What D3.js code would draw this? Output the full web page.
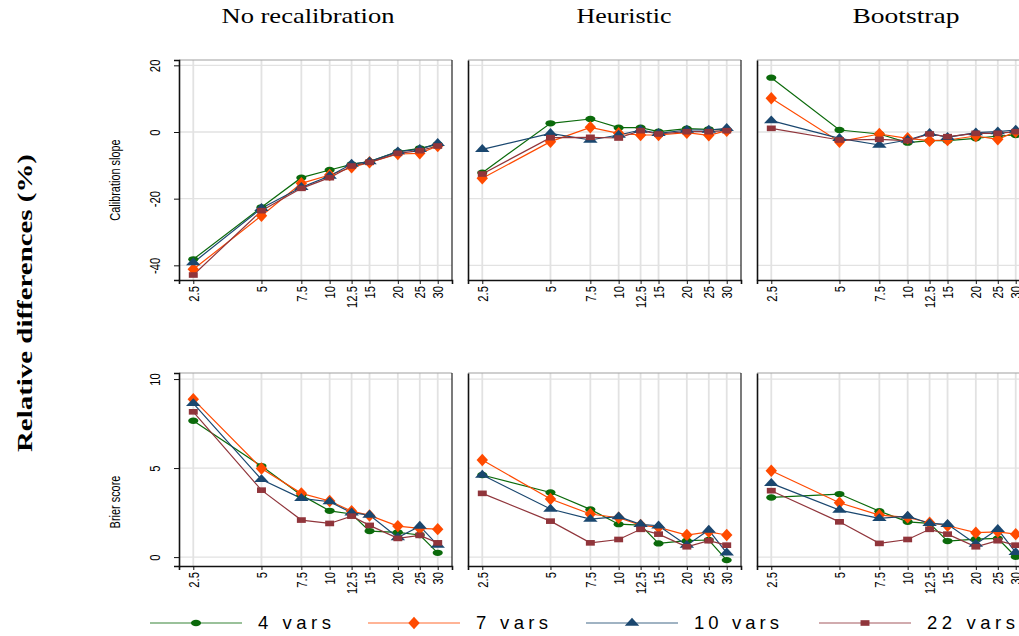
<!DOCTYPE html>
<html>
<head>
<meta charset="utf-8">
<script src="https://cdn.jsdelivr.net/npm/d3@7"></script>
<style>
  body { margin: 0; background: #fff; }
  svg { display: block; }
  .narrow { font-family: "Liberation Sans", Arial, sans-serif; }
</style>
</head>
<body>
<div id="chart"></div>
<script>
// sample size (events per variable) on the x axis
const xTicks = [2.5, 5, 7.5, 10, 12.5, 15, 20, 25, 30];
const methods = ["No recalibration", "Heuristic", "Bootstrap"];
const seriesNames = ["4 vars", "7 vars", "10 vars", "22 vars"];
const colors = ["#0b6a0b", "#ff4a00", "#1a476f", "#90353b"];
const shapes = [d3.symbolCircle, d3.symbolDiamond, d3.symbolTriangle, d3.symbolSquare];

// Calibration slope, relative difference (%)
const slopeNoRecal = [
  [-38.2, -22.6, -13.7, -11.4, -9.7, -8.9, -5.9, -4.9, -3.7],
  [-41.2, -25.1, -15.4, -12.9, -10.6, -9.1, -6.6, -6.4, -4.2],
  [-39.2, -22.9, -16.6, -13.2, -9.6, -8.9, -5.9, -5.2, -3.4],
  [-42.9, -23.6, -16.9, -13.7, -10.2, -9.1, -6.4, -5.6, -4.2]
];
const slopeHeuristic = [
  [-12.2, 2.6, 3.9, 1.3, 1.3, 0.1, 1.0, 0.8, 0.6],
  [-13.9, -2.9, 1.4, -0.4, -0.9, -0.9, -0.2, -1.0, 0.4],
  [-5.2, -0.4, -2.4, -0.9, 0.6, -0.4, 0.6, 0.6, 1.1],
  [-12.6, -1.7, -1.6, -1.8, 0.4, -0.6, 0.1, 0.1, 0.4]
];
const slopeBootstrap = [
  [16.3, 0.6, -0.6, -3.2, -2.6, -2.6, -1.9, -1.2, -0.9],
  [10.1, -2.9, -0.6, -1.9, -2.6, -2.4, -1.2, -2.2, 0.1],
  [3.4, -1.9, -3.9, -2.4, -0.4, -1.6, -0.2, 0.1, 0.6],
  [1.1, -2.4, -2.2, -2.6, -0.6, -1.4, -0.4, -0.4, 0.1]
];

// Brier score, relative difference (%)
const brierNoRecal = [
  [7.66, 5.11, 3.48, 2.60, 2.42, 1.46, 1.39, 1.24, 0.24],
  [8.86, 4.98, 3.58, 3.15, 2.58, 2.34, 1.74, 1.61, 1.57],
  [8.63, 4.36, 3.30, 3.11, 2.49, 2.36, 1.10, 1.74, 0.67],
  [8.16, 3.76, 2.08, 1.89, 2.30, 1.78, 1.05, 1.22, 0.80]
];
const brierHeuristic = [
  [4.61, 3.63, 2.68, 1.85, 1.80, 0.77, 0.92, 0.96, -0.17],
  [5.45, 3.26, 2.42, 2.21, 1.80, 1.67, 1.24, 1.42, 1.24],
  [4.61, 2.70, 2.13, 2.27, 1.84, 1.76, 0.67, 1.52, 0.24],
  [3.58, 2.02, 0.80, 0.99, 1.56, 1.29, 0.58, 0.92, 0.67]
];
const brierBootstrap = [
  [3.35, 3.54, 2.58, 1.98, 1.89, 0.90, 1.01, 1.05, 0.02],
  [4.85, 3.05, 2.36, 2.23, 1.93, 1.76, 1.37, 1.42, 1.29],
  [4.14, 2.64, 2.17, 2.30, 1.89, 1.84, 0.73, 1.56, 0.26],
  [3.73, 1.98, 0.77, 0.99, 1.56, 1.29, 0.58, 0.92, 0.67]
];

const slopeTicks = [20, 0, -20, -40];
const brierTicks = [10, 5, 0];

const width = 1019, height = 636;
const svg = d3.select("#chart").append("svg")
  .attr("width", width).attr("height", height);

const panelLeft = [179, 468, 757];
const panelW = 273;
const NARROW = 0.78; // horizontal squeeze to mimic a condensed face

const rows = [
  { label: "Calibration slope", top: 60, bottom: 280, domain: [-44.4, 21.6], ticks: slopeTicks,
    data: [slopeNoRecal, slopeHeuristic, slopeBootstrap], labelY: 180 },
  { label: "Brier score", top: 373, bottom: 566, domain: [-0.5, 10.34], ticks: brierTicks,
    data: [brierNoRecal, brierHeuristic, brierBootstrap], labelY: 502 }
];

const x = d3.scaleLog().domain([2.162, 34.69]).range([0, panelW]);
const markerSize = [44, 62, 50, 44];

function marker(g, i, cx, cy) {
  g.append("path")
    .attr("d", d3.symbol().type(shapes[i]).size(markerSize[i])())
    .attr("transform", `translate(${cx},${cy}) scale(1.35,0.85)`)
    .attr("fill", colors[i]);
}

// column titles
const titleX = [308, 624, 906];
const titleW = [173, 95, 107];
methods.forEach((m, j) => {
  svg.append("text")
    .attr("x", titleX[j] - titleW[j] / 2)
    .attr("y", 23)
    .attr("font-family", "Liberation Serif, serif")
    .attr("font-size", 21)
    .attr("textLength", titleW[j])
    .attr("lengthAdjust", "spacingAndGlyphs")
    .text(m);
});

// overall y label
svg.append("text")
  .attr("transform", "translate(32,452) rotate(-90)")
  .attr("font-family", "Liberation Serif, serif")
  .attr("font-weight", "bold")
  .attr("font-size", 21)
  .attr("textLength", 298)
  .attr("lengthAdjust", "spacingAndGlyphs")
  .text("Relative differences (%)");

rows.forEach(row => {
  const h = row.bottom - row.top;

  svg.append("text")
    .attr("class", "narrow")
    .attr("transform", `translate(120,${row.labelY}) rotate(-90) scale(${NARROW},1)`)
    .attr("text-anchor", "middle")
    .attr("font-size", 14)
    .text(row.label);

  methods.forEach((m, j) => {
    const g = svg.append("g").attr("transform", `translate(${panelLeft[j]},${row.top})`);
    const yl = d3.scaleLinear().domain(row.domain).range([h, 0]);

    // grid
    g.selectAll(".hg").data(row.ticks).enter().append("line")
      .attr("x1", 0).attr("x2", panelW)
      .attr("y1", d => yl(d)).attr("y2", d => yl(d))
      .attr("stroke", "#e2e2e2").attr("stroke-width", 1.3);
    g.selectAll(".vg").data(xTicks).enter().append("line")
      .attr("x1", d => x(d)).attr("x2", d => x(d))
      .attr("y1", 0).attr("y2", h)
      .attr("stroke", "#e2e2e2").attr("stroke-width", 1.8);

    // frame
    g.append("line").attr("x1", 0).attr("x2", panelW).attr("y1", 0).attr("y2", 0)
      .attr("stroke", "#a0a0a0").attr("stroke-width", 1.2);
    g.append("line").attr("x1", panelW).attr("x2", panelW).attr("y1", 0).attr("y2", h)
      .attr("stroke", "#222").attr("stroke-width", 1.2);

    // axes
    const ax = g.append("g").attr("transform", `translate(0,${h})`)
      .call(d3.axisBottom(x).tickValues(xTicks).tickSize(4).tickFormat(d => String(d)));
    ax.select(".domain").attr("stroke", "#111").attr("stroke-width", 1.6);
    ax.selectAll(".tick line").attr("stroke", "#111");
    ax.selectAll(".tick text")
      .attr("class", "narrow")
      .attr("font-size", 14.5)
      .attr("fill", "#000")
      .attr("text-anchor", "end")
      .attr("x", null).attr("y", null).attr("dy", "0.35em")
      .attr("transform", `translate(0,6) rotate(-90) scale(${NARROW},1)`);

    const ay = g.append("g")
      .call(d3.axisLeft(yl).tickValues(row.ticks).tickSize(j === 0 ? 5 : 0).tickFormat(d => String(d)));
    ay.select(".domain").attr("stroke", "#111").attr("stroke-width", 1.6);
    ay.selectAll(".tick line").attr("stroke", "#111");
    ay.selectAll(".tick text")
      .attr("class", "narrow")
      .attr("font-size", 14.5)
      .attr("fill", "#000")
      .attr("text-anchor", "middle")
      .attr("x", null).attr("y", null).attr("dy", 0)
      .attr("transform", `translate(-19,0) rotate(-90) scale(${NARROW},1)`)
      .style("display", j === 0 ? null : "none");

    // series
    const line = d3.line().x((d, k) => x(xTicks[k])).y(d => yl(d));
    row.data[j].forEach((vals, i) => {
      g.append("path").datum(vals)
        .attr("d", line)
        .attr("fill", "none")
        .attr("stroke", colors[i])
        .attr("stroke-width", 1.2);
    });
    row.data[j].forEach((vals, i) => {
      vals.forEach((v, k) => marker(g, i, x(xTicks[k]), yl(v)));
    });
  });
});

// legend
const legendX = [150, 368, 586, 819];
const legendTextW = [73, 72, 85, 88];
const legendY = 623;
seriesNames.forEach((s, i) => {
  const lg = svg.append("g").attr("transform", `translate(${legendX[i]},${legendY})`);
  lg.append("line").attr("x1", 0).attr("x2", 92).attr("y1", 0).attr("y2", 0)
    .attr("stroke", colors[i]).attr("stroke-opacity", 0.55).attr("stroke-width", 1.6);
  marker(lg, i, 46, 0);
  lg.append("text")
    .attr("x", 108).attr("y", 6)
    .attr("font-family", "Liberation Sans, Arial, sans-serif")
    .attr("font-size", 18.5)
    .attr("textLength", legendTextW[i])
    .attr("lengthAdjust", "spacing")
    .text(s);
});
</script>
</body>
</html>
